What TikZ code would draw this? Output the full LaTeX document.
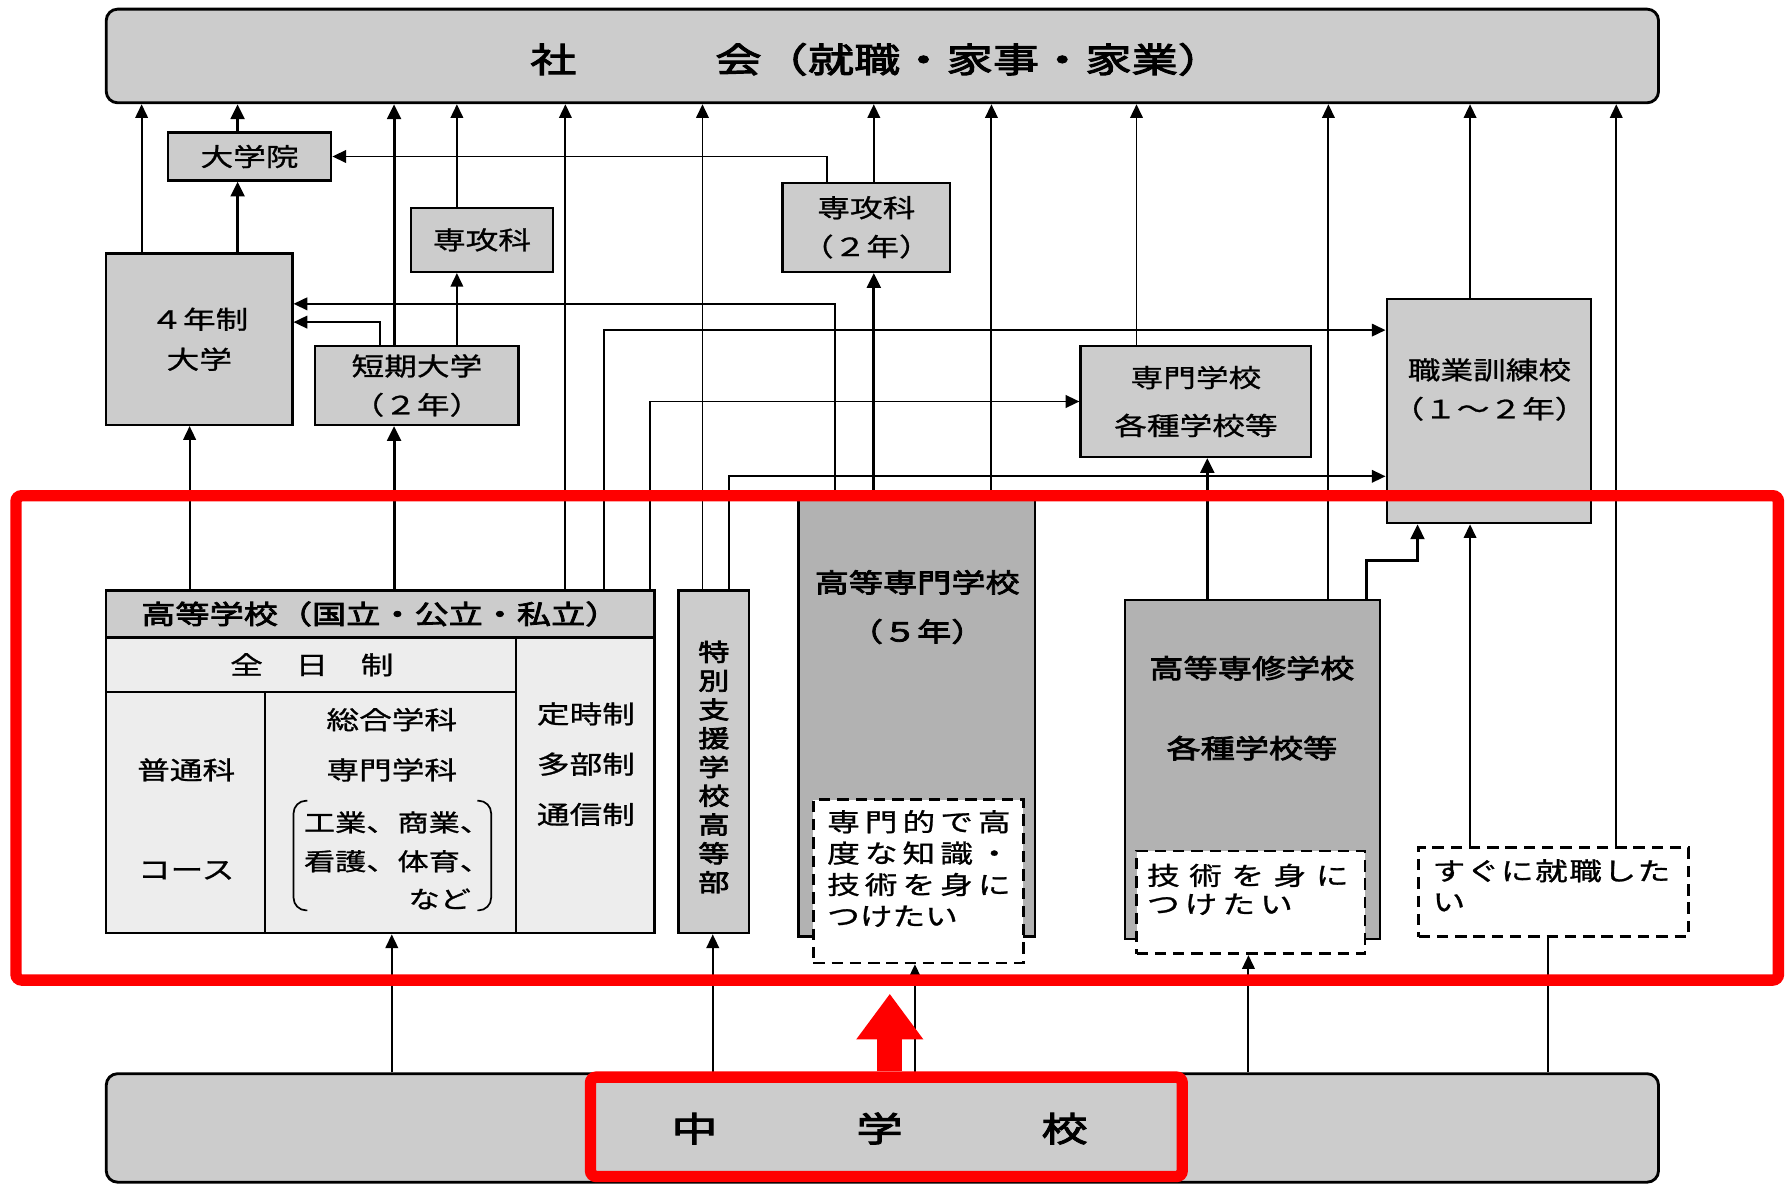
\documentclass[tikz,border=0pt]{standalone}
\usepackage{fontspec}
\newfontfamily\jp{Noto Sans CJK JP}[FakeStretch=1.3,FakeBold=1]
\newfontfamily\jpb{Noto Sans CJK JP}[FakeStretch=1.3,FakeBold=3]
\newfontfamily\jpbig{Noto Sans CJK JP}[FakeStretch=1.35,FakeBold=3]
\newfontfamily\jpa{Noto Sans CJK JP}[FakeStretch=1.3,FakeBold=1,LetterSpace=20]
\newfontfamily\jpc{Noto Sans CJK JP}[FakeStretch=1.3,FakeBold=1,LetterSpace=38]
\newfontfamily\jpd{Noto Sans CJK JP}[FakeStretch=1.3,FakeBold=1,LetterSpace=6]
\newcommand\jpsize[2]{\fontsize{#1}{#2}\selectfont}
\usetikzlibrary{arrows.meta,calc}
\newcommand\BX[6]{\node[#1, minimum width={#4-#2}, minimum height={#5-#3}] (#6) at ({(#2+#4)/2},{(#3+#5)/2})}
\begin{document}
\begin{tikzpicture}[x=1pt,y=-1pt,
  bigbox/.style={draw, line width=2.5pt, fill=black!20, rounded corners=10pt, inner sep=0pt},
  box/.style={draw, line width=2pt, fill=black!20, inner sep=0pt, align=center, font=\jp\jpsize{22}{34}},
  kbox/.style={draw, line width=2pt, fill=black!30, inner sep=0pt},
  cellbox/.style={draw, line width=2pt, fill=black!7, inner sep=0pt},
  dbox/.style={draw, line width=2.4pt, dash pattern=on 10pt off 6pt, fill=white, inner sep=0pt},
  tline/.style={line width=2pt},
  conn/.style={line width=1.7pt, -{Triangle[length=12pt,width=11pt]}},
  tconn/.style={line width=2.6pt, -{Triangle[length=13pt,width=12pt]}},
  plainline/.style={line width=1.7pt},
  txt/.style={inner sep=0pt, font=\jp\jpsize{22}{27}},
  btxt/.style={inner sep=0pt, font=\jpb\jpsize{22}{27}},
  bigtxt/.style={inner sep=0pt, font=\jpbig\jpsize{30}{30}},
  redframe/.style={draw=red, line width=10pt, rounded corners=5pt, inner sep=0pt},
  redarrow/.style={draw=red, line width=22pt, -{Triangle[length=40pt,width=56pt]}}
]
\useasboundingbox (0,0) rectangle (1568,1037);
\fill[white] (0,0) rectangle (1568,1037);
\foreach \v in {124,166,208,233,333,343,345,400,453,495,529,569,615,624,638,724,731,765,779,801,868,995,1057,1093,1163,1196,1241,1287,1355,1415}{\coordinate (x\v) at (\v,0);}

% society and junior high school
\node[bigbox, minimum width=1359, minimum height=82] (soc) at (772.5,49) {};
\node[bigtxt] (soct) at (768,52) {社　　　会（就職・家事・家業）};
\node[bigbox, minimum width=1359, minimum height=95] (chu) at (772.5,987.5) {};
\node[bigtxt] (chut) at (770,988) {中　　　学　　　校};

% upper boxes
\BX{box}{147}{116}{290}{158}{dgi} {大学院};
\BX{box}{360}{182}{484}{238}{skL} {専攻科};
\BX{box}{685}{160}{832}{238}{skR} {専攻科\\（２年）};
\BX{box,font=\jp\jpsize{22}{35}}{93}{222}{256}{372}{yon} {４年制\\大学};
\BX{box}{276}{303}{454}{372}{tan} {短期大学\\（２年）};
\BX{box,font=\jp\jpsize{22}{42}}{946}{303}{1148}{400}{smn} {専門学校\\各種学校等};
\BX{box}{1214}{262}{1393}{458}{shk} {};
\node[txt, align=center, font=\jp\jpsize{22}{34}] (shkt) at (1304,341) {職業訓練校\\（１～２年）};

% high school table
\BX{cellbox}{93}{517}{573}{817}{kok} {};
\BX{box,font=\jpb\jpsize{23}{27}}{93}{517}{573}{558}{kokh} {高等学校（国立・公立・私立）};
\draw[tline] ($(kok.north west)+(0,90)$) -- ($(kok.north west)+(360,90)$);
\draw[tline] ($(kok.north west)+(360,41)$) -- ($(kok.south west)+(360,0)$);
\draw[tline] ($(kok.north west)+(140,90)$) -- ($(kok.south west)+(140,0)$);
\node[txt] (zen) at (273,582) {全　日　制};
\node[txt] (futsu) at (163,674) {普通科};
\node[txt] (course) at (163,762) {コース};
\node[txt] (sogo) at (343,630) {総合学科};
\node[txt] (senmonka) at (343,674) {専門学科};
\node[txt, font=\jp\jpsize{21}{27}] (kogyo) at (348,720) {工業、商業、};
\node[txt, font=\jp\jpsize{21}{27}] (kango) at (348,754) {看護、体育、};
\node[txt, font=\jp\jpsize{21}{27}] (nado) at (385,787) {など};
\draw[line width=1.5pt, rounded corners=11pt] (269,701) -- (257,701) -- (257,797) -- (269,797);
\draw[line width=1.5pt, rounded corners=11pt] (418,701) -- (430,701) -- (430,797) -- (418,797);
\node[txt] (teiji) at (513,625) {定時制};
\node[txt] (tabu) at (513,669) {多部制};
\node[txt] (tsushin) at (513,713) {通信制};

% special support school
\BX{box}{594}{517}{656}{817}{tok} {};
\node[btxt, align=center, font=\jpb\jpsize{21}{25.2}] (tokt) at (625,671.5) {特\\別\\支\\援\\学\\校\\高\\等\\部};

% technical college
\BX{kbox}{699}{437}{906}{820}{kos} {};
\node[btxt, align=center, font=\jpb\jpsize{23}{43}] (kost) at (803,531.5) {高等専門学校\\（５年）};
\BX{dbox}{712}{700}{896}{843}{d1} {};
\node[txt, anchor=north west, align=left, font=\jpa\jpsize{22}{27.5}] (d1t) at (724,709) {専門的で高\\度な知識・\\技術を身に\\{\jp つけたい}};

% upper secondary specialized school
\BX{kbox}{985}{525}{1208}{822}{ksh} {};
\node[btxt, align=center, font=\jpb\jpsize{23}{70}] (ksht) at (1096,620) {高等専修学校\\各種学校等};
\BX{dbox}{995}{745}{1195}{835}{d2} {};
\node[txt, anchor=north west, align=left, font=\jpc\jpsize{22}{25}] (d2t) at (1004,756) {技術を身に\\{\jpa つけたい}};

% want to work
\BX{dbox}{1242}{742}{1478}{820}{d3} {};
\node[txt, anchor=north west, align=left, font=\jpd\jpsize{22}{27}] (d3t) at (1254,752) {すぐに就職した\\い};

% connectors to society
\draw[conn] (yon.north -| x124) -- (soc.south -| x124);
\draw[tconn] (dgi.north -| x208) -- (soc.south -| x208);
\draw[tconn] (yon.north -| x208) -- (dgi.south -| x208);
\draw[tconn] (tan.north -| x345) -- (soc.south -| x345);
\draw[conn] (skL.north -| x400) -- (soc.south -| x400);
\draw[conn] (tan.north -| x400) -- (skL.south -| x400);
\draw[conn] (kokh.north -| x495) -- (soc.south -| x495);
\draw[conn] (tok.north -| x615) -- (soc.south -| x615);
\draw[conn] (skR.north -| x765) -- (soc.south -| x765);
\draw[tconn] (kos.north -| x765) -- (skR.south -| x765);
\draw[conn] (kos.north -| x868) -- (soc.south -| x868);
\draw[conn] (smn.north -| x995) -- (soc.south -| x995);
\draw[conn] (ksh.north -| x1163) -- (soc.south -| x1163);
\draw[conn] (shk.north -| x1287) -- (soc.south -| x1287);
\draw[conn] (d3.north -| x1415) -- (soc.south -| x1415);

% elbow connectors
\draw[conn] (skR.north -| x724) |- (dgi.east);
\draw[conn] (kos.north -| x731) |- ($(yon.north east)+(0,45)$);
\draw[conn] (tan.north -| x333) |- ($(yon.north east)+(0,61)$);
\draw[conn] (kokh.north -| x166) -- (yon.south -| x166);
\draw[tconn] (kokh.north -| x345) -- (tan.south -| x345);
\draw[conn] (kokh.north -| x529) |- ($(shk.north west)+(0,28)$);
\draw[conn] (kokh.north -| x569) |- (smn.west);
\draw[conn] (tok.north -| x638) |- ($(shk.north west)+(0,156)$);
\draw[tconn] (ksh.north -| x1057) -- (smn.south -| x1057);
\draw[tconn] (ksh.north -| x1196) -- ++(0,-33) -| (shk.south -| x1241);
\draw[conn] (d3.north -| x1287) -- (shk.south -| x1287);

% from junior high school
\draw[conn] (chu.north -| x343) -- (kok.south -| x343);
\draw[conn] (chu.north -| x624) -- (tok.south -| x624);
\draw[conn] (chu.north -| x801) -- (d1.south -| x801);
\draw[conn] (chu.north -| x1093) -- (d2.south -| x1093);
\draw[plainline] (chu.north -| x1355) -- (d3.south -| x1355);

% red highlights
\node[redframe, minimum width=1543, minimum height=424] (hl) at (785.5,646) {};
\node[redframe, minimum width=518, minimum height=87] (hl2) at (776,986.5) {};
\draw[redarrow] (hl2.north -| x779) -- ($(hl.south -| x779)+(0,7)$);
\end{tikzpicture}
\end{document}
